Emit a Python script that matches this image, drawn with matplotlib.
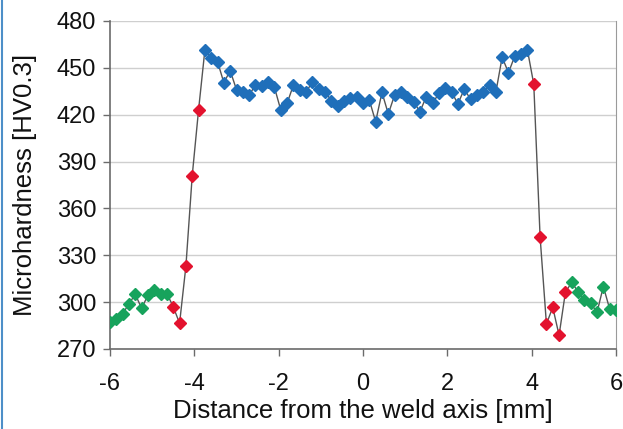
import matplotlib
matplotlib.use('Agg')
import matplotlib.pyplot as plt
from matplotlib.lines import Line2D

# distance from weld axis [mm] and microhardness [HV0.3]
distance = [
    -6.00, -5.85, -5.70, -5.55, -5.40, -5.25, -5.10, -4.95, -4.80, -4.65,
    -4.50, -4.35, -4.20, -4.05, -3.90,
    -3.75, -3.60, -3.45, -3.30, -3.15, -3.00, -2.85, -2.70, -2.55, -2.40,
    -2.25, -2.10, -1.95, -1.80, -1.65, -1.50, -1.35, -1.20, -1.05, -0.90,
    -0.75, -0.60, -0.45, -0.30, -0.15, 0.00, 0.15, 0.30, 0.45, 0.60,
    0.75, 0.90, 1.05, 1.20, 1.35, 1.50, 1.65, 1.80, 1.95, 2.10,
    2.25, 2.40, 2.55, 2.70, 2.85, 3.00, 3.15, 3.30, 3.45, 3.60,
    3.75, 3.90,
    4.05, 4.20, 4.35, 4.50, 4.65, 4.80,
    4.95, 5.10, 5.25, 5.40, 5.55, 5.70, 5.85, 6.00,
]
hardness = [
    287.5, 289, 292.5, 299, 305, 296, 304.5, 308, 305, 305.5,
    297, 286.5, 323, 381, 423,
    461.4, 456.5, 454, 440.5, 448.2, 436, 434.5, 432.6, 439, 438.4,
    440.8, 437.5, 423, 427.3, 439, 435.8, 434.7, 440.8, 436.3, 434.7,
    429, 425.6, 429, 431, 431.5, 427.3, 429.4, 415.5, 434.3, 420.5,
    432.6, 434.7, 431.5, 428.4, 421.9, 431.5, 427.3, 433.7, 436.9, 434.7,
    426.9, 436.3, 430, 432.6, 434.7, 439, 434.3, 456.8, 446.9, 457.6,
    458.9, 461.4,
    439.5, 341.7, 286, 296.7, 278.8, 306.3,
    312.7, 306.7, 301.4, 299.3, 293.5, 310, 295.6, 295,
]
# zone of each point: base material, transition, fusion zone
zone = (['base'] * 10 + ['trans'] * 5 + ['weld'] * 52
        + ['trans'] * 6 + ['base'] * 8)

zone_colors = {'base': '#17a35c', 'trans': '#e3122e', 'weld': '#1f6fba'}

plt.rcParams['font.family'] = ['Liberation Sans', 'DejaVu Sans']
plt.rcParams['axes.unicode_minus'] = False

fig = plt.figure(figsize=(6.23, 4.29), dpi=100)
ax = fig.add_axes([110 / 623, 1 - 349 / 429, 506 / 623, 328 / 429])

ax.plot(distance, hardness, color='#555555', lw=1.0, zorder=2)
for z, c in zone_colors.items():
    xs = [d for d, zz in zip(distance, zone) if zz == z]
    ys = [h for h, zz in zip(hardness, zone) if zz == z]
    ax.plot(xs, ys, ls='none', marker='D', ms=5.8, color=c,
            mec=c, zorder=3)

ax.set_xlim(-6, 6)
ax.set_ylim(270, 480)
ax.set_xticks([-6, -4, -2, 0, 2, 4, 6])
ax.set_yticks([270, 300, 330, 360, 390, 420, 450, 480])
ax.grid(axis='y', color='#cfcfcf', lw=1.0)
ax.set_axisbelow(True)

for side in ['left', 'bottom']:
    ax.spines[side].set_color('#6b6b6b')
    ax.spines[side].set_linewidth(1.2)
ax.spines['right'].set_color('#9a9a9a')
ax.spines['top'].set_visible(False)

ax.tick_params(axis='both', labelsize=17, colors='#6b6b6b',
               labelcolor='#111111', length=5, width=1.0, direction='out')
ax.tick_params(axis='x', pad=12)
ax.tick_params(axis='y', pad=5)

ax.set_xlabel('Distance from the weld axis [mm]', fontsize=18.5,
              color='#111111', labelpad=3)
ax.set_ylabel('Microhardness [HV0.3]', fontsize=18.5, color='#111111',
              labelpad=14)

# thin blue frame line on the figure edge
fig.add_artist(Line2D([2.5 / 623, 2.5 / 623], [0, 1], color='#4d8fc8',
                      lw=1.5, transform=fig.transFigure))

fig.savefig('out.png', dpi=100)
